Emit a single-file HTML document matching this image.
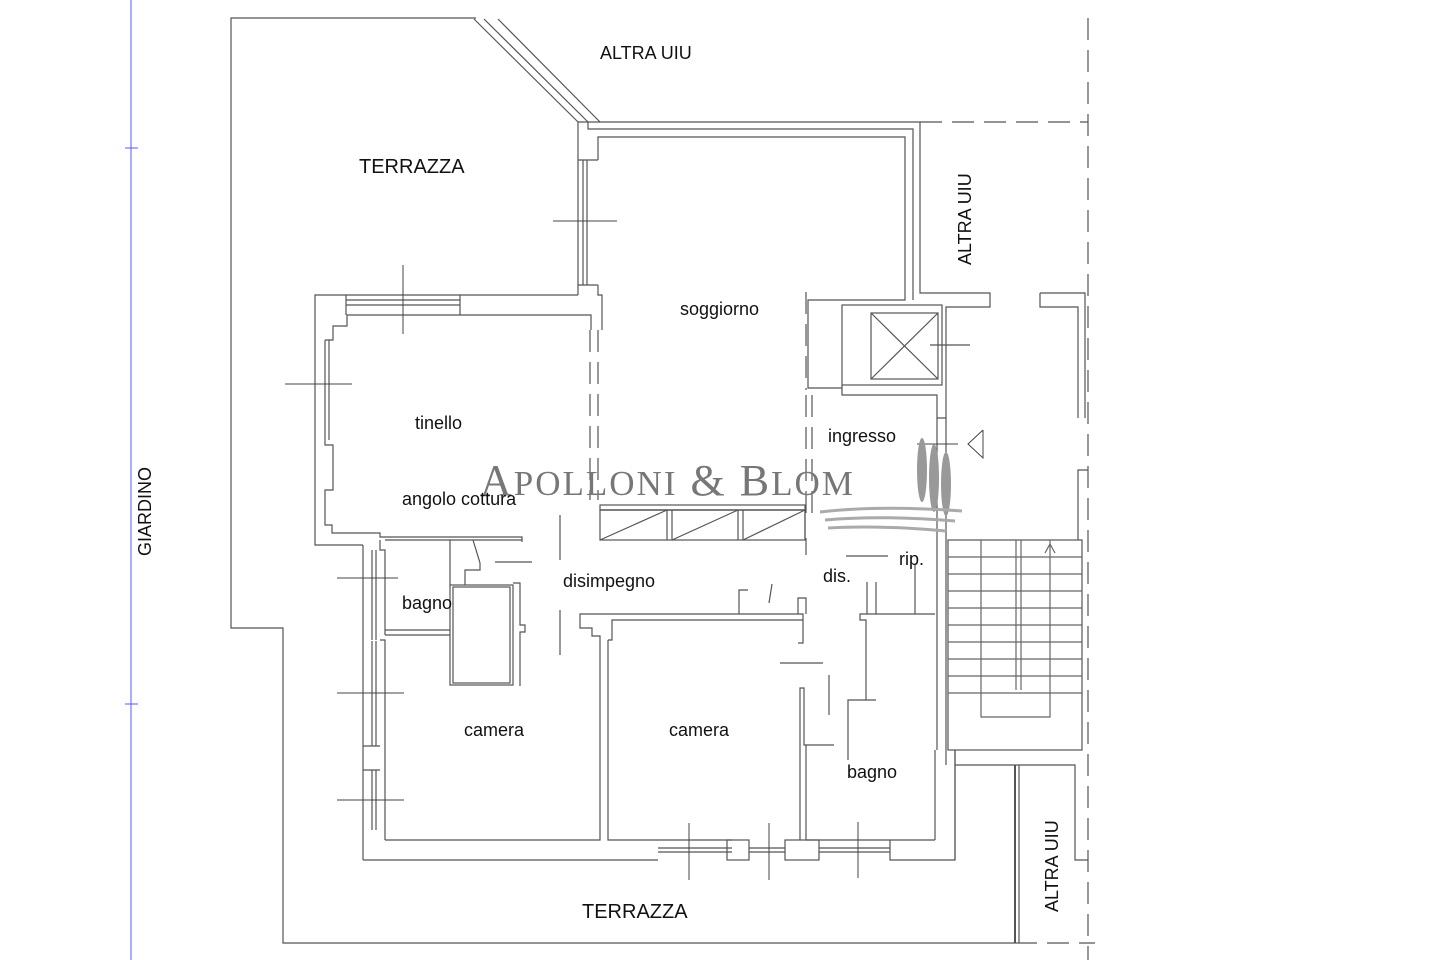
<!DOCTYPE html>
<html><head><meta charset="utf-8"><style>
html,body{margin:0;padding:0;background:#fff;}
svg{display:block}
text{font-family:"Liberation Sans",sans-serif;fill:#111;}
</style></head><body>
<svg width="1440" height="960" viewBox="0 0 1440 960" xmlns="http://www.w3.org/2000/svg">
<g stroke="#5a5aff" stroke-width="1" fill="none">
<line x1="131" y1="0" x2="131" y2="960"/>
<line x1="125" y1="148" x2="138" y2="148"/>
<line x1="125" y1="704" x2="138" y2="704"/>
</g>
<g stroke="#555" stroke-width="1.2" fill="none">
<polyline points="476,18 231,18 231,628 283,628 283,943 1015,943"/>
<line x1="474" y1="19" x2="578" y2="122"/>
<line x1="484" y1="19" x2="588" y2="122"/>
<line x1="498" y1="19" x2="600" y2="122"/>
<g stroke-dasharray="22,10">
<line x1="1088" y1="18" x2="1088" y2="960"/>
<line x1="920" y1="122" x2="1088" y2="122"/>
<line x1="1015" y1="943" x2="1095" y2="943"/>
<line x1="806" y1="292" x2="806" y2="390"/>
<line x1="806" y1="395" x2="806" y2="520"/>
<line x1="812" y1="395" x2="812" y2="520"/>
<line x1="590" y1="330" x2="590" y2="500"/>
<line x1="598" y1="330" x2="598" y2="500"/>
</g>
<polyline points="578,122 920,122 920,293 990,293 990,307 946,307 946,418 937,418 937,395 842,395 842,385"/>
<polyline points="588,122 588,129 913,129 913,300"/>
<polyline points="598,160 598,137 905,137 905,300 808,300 808,388 842,388"/>
<line x1="578" y1="122" x2="578" y2="295"/>
<line x1="598" y1="160" x2="578" y2="160"/>
<line x1="583" y1="160" x2="583" y2="285"/>
<line x1="587" y1="160" x2="587" y2="285"/>
<line x1="578" y1="285" x2="598" y2="285"/>
<polyline points="598,285 598,295 602,295 602,330"/>
<rect x="842" y="305" width="100" height="80"/>
<rect x="871" y="313" width="67" height="66"/>
<line x1="871" y1="313" x2="938" y2="379"/>
<line x1="938" y1="313" x2="871" y2="379"/>
<line x1="930" y1="345" x2="970" y2="345"/>
<polyline points="1040,293 1085,293 1085,418"/>
<polyline points="1040,293 1040,307 1078,307 1078,418"/>
<polyline points="1088,470 1078,470 1078,540"/>
<line x1="937" y1="418" x2="937" y2="750"/>
<line x1="946" y1="418" x2="946" y2="765"/>
<rect x="948" y="540" width="134" height="210"/>
<g stroke="#666">
<line x1="948" y1="557" x2="1082" y2="557"/><line x1="948" y1="574" x2="1082" y2="574"/>
<line x1="948" y1="591" x2="1082" y2="591"/><line x1="948" y1="608" x2="1082" y2="608"/>
<line x1="948" y1="625" x2="1082" y2="625"/><line x1="948" y1="642" x2="1082" y2="642"/>
<line x1="948" y1="659" x2="1082" y2="659"/><line x1="948" y1="676" x2="1082" y2="676"/>
<line x1="948" y1="693" x2="1082" y2="693"/>
<polyline points="981,540 981,717 1050,717 1050,540"/>
<line x1="1016" y1="540" x2="1016" y2="690"/><line x1="1021" y1="540" x2="1021" y2="690"/>
<polyline points="1045,553 1050,544 1055,553"/>
</g>
<polyline points="955,750 955,765 1075,765 1075,860 1088,860"/>
<line x1="1015" y1="765" x2="1015" y2="943" stroke-width="2"/>
<line x1="1019" y1="765" x2="1019" y2="943"/>
<line x1="955" y1="765" x2="955" y2="860"/>
<polyline points="578,295 315,295 315,545 363,545"/>
<polyline points="460,315 347,315 347,326 333,326 333,340 325,340"/>
<line x1="346" y1="295" x2="346" y2="315"/>
<line x1="346" y1="300" x2="460" y2="300"/><line x1="346" y1="305" x2="460" y2="305"/>
<line x1="460" y1="295" x2="460" y2="315"/>
<polyline points="460,315 591,315 591,330"/>
<line x1="325" y1="340" x2="325" y2="440"/><line x1="329" y1="340" x2="329" y2="440"/>
<polyline points="325,440 325,445 333,445 333,490 325,490 325,525 332,525 332,533 380,533 380,537 522,537 522,542"/>
<line x1="363" y1="545" x2="363" y2="860"/>
<polyline points="380,540 380,550 385,550 385,635"/>
<line x1="372" y1="550" x2="372" y2="640"/><line x1="376" y1="550" x2="376" y2="640"/>
<polyline points="380,640 385,640 385,840"/>
<line x1="372" y1="641" x2="372" y2="746"/><line x1="376" y1="641" x2="376" y2="746"/>
<line x1="363" y1="746" x2="380" y2="746"/><line x1="363" y1="770" x2="380" y2="770"/>
<line x1="372" y1="770" x2="372" y2="830"/><line x1="376" y1="770" x2="376" y2="830"/>
<line x1="385" y1="540" x2="522" y2="540"/>
<line x1="385" y1="630" x2="450" y2="630"/><line x1="385" y1="635" x2="450" y2="635"/>
<line x1="450" y1="540" x2="450" y2="585"/>
<polyline points="473,540 480,563 480,570 465,570 465,585"/>
<rect x="450" y="585" width="63" height="100"/>
<rect x="453" y="587" width="57" height="96"/>
<polyline points="513,583 520,583 520,625 525,625 525,632 520,632 520,686"/>
<polyline points="385,840 600,840 600,636 592,636 592,628 580,628 580,614 803,614 803,643 798,643"/>
<polyline points="608,640 608,840 732,840"/>
<polyline points="608,640 612,640 612,620 803,620"/>
<polyline points="363,860 658,860"/>
<line x1="658" y1="848" x2="732" y2="848"/><line x1="658" y1="852" x2="732" y2="852"/>
<rect x="727" y="840" width="22" height="20"/>
<line x1="749" y1="848" x2="785" y2="848"/><line x1="749" y1="852" x2="785" y2="852"/>
<rect x="785" y="840" width="34" height="20"/>
<line x1="819" y1="848" x2="890" y2="848"/><line x1="819" y1="852" x2="890" y2="852"/>
<polyline points="890,840 890,860 955,860 955,750"/>
<polyline points="800,840 800,688 804,688 804,745 834,745"/>
<polyline points="806,840 890,840"/>
<line x1="806" y1="745" x2="806" y2="840"/>
<line x1="935" y1="750" x2="935" y2="840"/><line x1="935" y1="840" x2="890" y2="840"/>
<polyline points="739,614 739,590 748,590"/>
<polyline points="798,614 798,598 806,598 806,614"/>
<line x1="772" y1="584" x2="769" y2="603"/>
<line x1="806" y1="538" x2="806" y2="555"/>
<polyline points="866,700 866,620 860,620 860,614 935,614"/>
<polyline points="876,700 848,700 848,760"/>
<line x1="867" y1="582" x2="867" y2="614"/><line x1="876" y1="582" x2="876" y2="614"/>
<line x1="915" y1="565" x2="915" y2="614"/>
<line x1="780" y1="663" x2="823" y2="663"/>
<line x1="829" y1="675" x2="829" y2="715"/>
<line x1="560" y1="515" x2="560" y2="560"/><line x1="560" y1="610" x2="560" y2="655"/>
<line x1="495" y1="562" x2="532" y2="562"/>
<line x1="846" y1="556" x2="888" y2="556"/>
<polyline points="600,510 805,510 805,538"/>
<rect x="600" y="505" width="205" height="5"/>
<rect x="600" y="510" width="205" height="30"/>
<line x1="667" y1="510" x2="667" y2="540"/><line x1="672" y1="510" x2="672" y2="540"/>
<line x1="738" y1="510" x2="738" y2="540"/><line x1="743" y1="510" x2="743" y2="540"/>
<line x1="600" y1="540" x2="667" y2="510"/><line x1="672" y1="540" x2="738" y2="510"/><line x1="743" y1="540" x2="805" y2="510"/>
<g stroke="#444" stroke-width="1">
<line x1="553" y1="221" x2="617" y2="221"/>
<line x1="403" y1="265" x2="403" y2="334"/>
<line x1="285" y1="384" x2="352" y2="384"/>
<line x1="337" y1="578" x2="398" y2="578"/>
<line x1="337" y1="693" x2="404" y2="693"/>
<line x1="337" y1="800" x2="404" y2="800"/>
<line x1="689" y1="823" x2="689" y2="880"/>
<line x1="769" y1="823" x2="769" y2="880"/>
<line x1="858" y1="822" x2="858" y2="878"/>
<line x1="917" y1="444" x2="958" y2="444"/>
<polyline points="983,430 968,444 983,458 983,430"/>
</g>
</g>
<text x="480" y="495" style="font-family:'Liberation Serif',serif;fill:#777;font-size:44px;letter-spacing:2px">A<tspan style="font-size:35px">POLLONI</tspan> &amp; B<tspan style="font-size:35px">LOM</tspan></text>
<g fill="#999">
<ellipse cx="922" cy="470" rx="5" ry="32"/>
<ellipse cx="934" cy="478" rx="5" ry="34"/>
<ellipse cx="946" cy="484" rx="5" ry="32"/>
</g>
<g stroke="#aaa" stroke-width="3" fill="none">
<path d="M820,512 Q880,505 962,511"/>
<path d="M825,520 Q880,515 955,521"/>
<path d="M828,528 Q880,525 946,531"/>
</g>
<g style="font-size:18px">
<text x="600" y="59">ALTRA UIU</text>
<text x="359" y="173" style="font-size:20px">TERRAZZA</text>
<text x="680" y="315">soggiorno</text>
<text x="415" y="429">tinello</text>
<text x="828" y="442">ingresso</text>
<text x="402" y="505">angolo cottura</text>
<text x="563" y="587">disimpegno</text>
<text x="823" y="582">dis.</text>
<text x="899" y="565">rip.</text>
<text x="402" y="609">bagno</text>
<text x="464" y="736">camera</text>
<text x="669" y="736">camera</text>
<text x="847" y="778">bagno</text>
<text x="582" y="918" style="font-size:20px">TERRAZZA</text>
<text transform="translate(151,556) rotate(-90)">GIARDINO</text>
<text transform="translate(971,265) rotate(-90)">ALTRA UIU</text>
<text transform="translate(1058,912) rotate(-90)">ALTRA UIU</text>
</g>
</svg>
</body></html>
